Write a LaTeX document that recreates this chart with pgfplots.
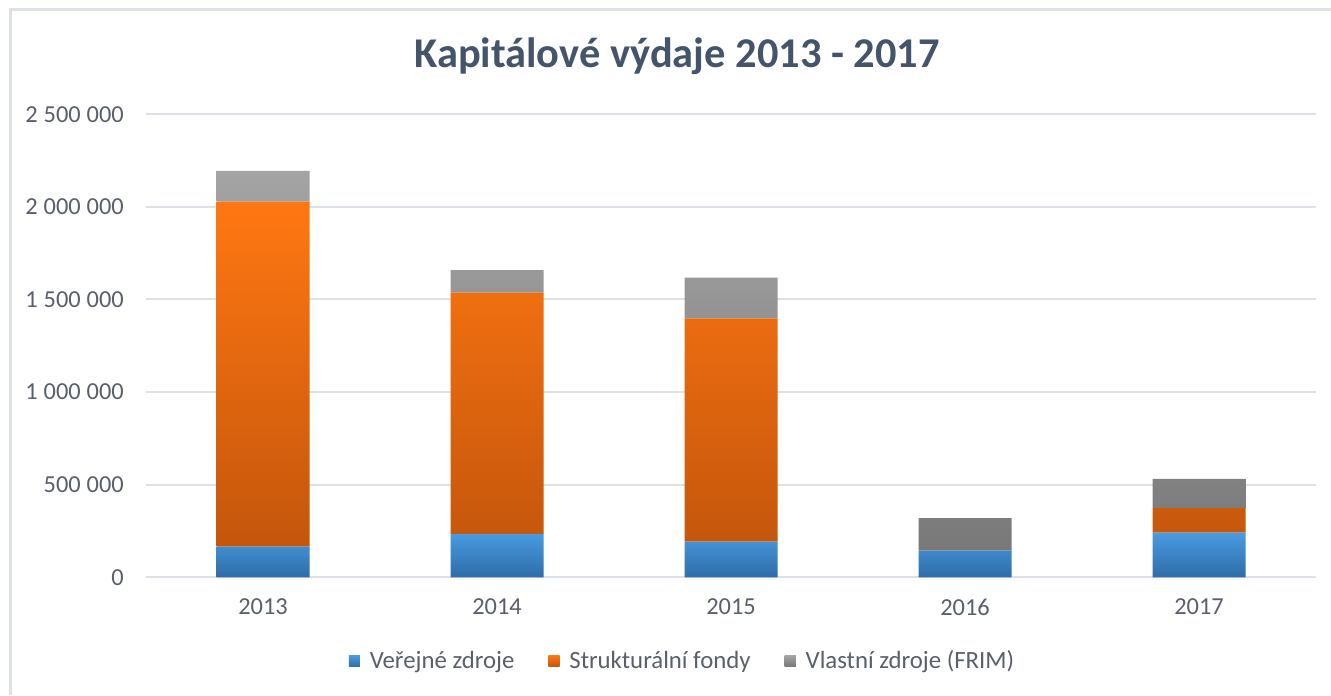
\documentclass[border=0pt]{standalone}
\usepackage{fontspec}
\setmainfont{Carlito}
\usepackage{pgfplots}
\pgfplotsset{compat=1.18}
\definecolor{gridc}{HTML}{DCE0E7}
\definecolor{txt}{HTML}{595F6B}
\definecolor{titlec}{HTML}{44546A}
\definecolor{blueT}{HTML}{4A9BE1}
\definecolor{blueB}{HTML}{2E6DA8}
\definecolor{oraT}{HTML}{FF7712}
\definecolor{oraB}{HTML}{C4560C}
\definecolor{grayT}{HTML}{A4A4A4}
\definecolor{grayB}{HTML}{797979}
\begin{document}
\begin{tikzpicture}
\path[use as bounding box] (0,0) rectangle (665.5pt,347.5pt);
\draw[gridc, line width=1.5pt] (5.25pt,0) -- (5.25pt,342.75pt) -- (665.5pt,342.75pt);
\node[text=titlec, font=\fontsize{21.2}{25}\selectfont\bfseries] at (338.5pt,319.5pt) {Kapitálové výdaje 2013 - 2017};
\begin{axis}[
  at={(73pt,58.85pt)}, anchor=south west,
  scale only axis, width=585pt, height=231.5pt,
  ybar stacked, bar width=46.5pt,
  xmin=-0.5, xmax=4.5, ymin=0, ymax=2500000,
  xtick={0,1,2,3,4}, xticklabels={2013,2014,2015,2016,2017},
  ytick={0,500000,1000000,1500000,2000000,2500000},
  scaled y ticks=false,
  /pgf/number format/fixed,
  /pgf/number format/1000 sep={\hspace{0.24em}},
  /pgf/number format/assume math mode=true,
  major tick length=0pt,
  ymajorgrids, grid style={gridc, line width=1pt},
  axis line style={draw=none},
  tick label style={text=txt, font=\fontsize{12.2}{14}\selectfont},
  xticklabel style={yshift=-7.3pt},
  yticklabel style={xshift=-7.6pt},
  legend columns=3,
  legend style={at={(0.4594,-0.1808)}, anchor=center, draw=none, fill=none,
    font=\fontsize{12.4}{15}\selectfont, text=txt,
    /tikz/every even column/.append style={column sep=15pt}},
  legend image code/.code={\path[#1, draw=none] (0pt,-2.8pt) rectangle (5.6pt,2.8pt); \path (5.6pt,0) -- (8.5pt,0);},
]
\addplot[draw=none, top color=blueT, bottom color=blueB] coordinates {(0,165000) (1,234000) (2,192000) (3,144000) (4,241000)};
\addplot[draw=none, top color=oraT, bottom color=oraB] coordinates {(0,1863000) (1,1303000) (2,1206000) (3,0) (4,132000)};
\addplot[draw=none, top color=grayT, bottom color=grayB] coordinates {(0,166000) (1,122000) (2,220000) (3,175000) (4,158000)};
\legend{Veřejné zdroje, Strukturální fondy, Vlastní zdroje (FRIM)}
\end{axis}
\end{tikzpicture}
\end{document}
